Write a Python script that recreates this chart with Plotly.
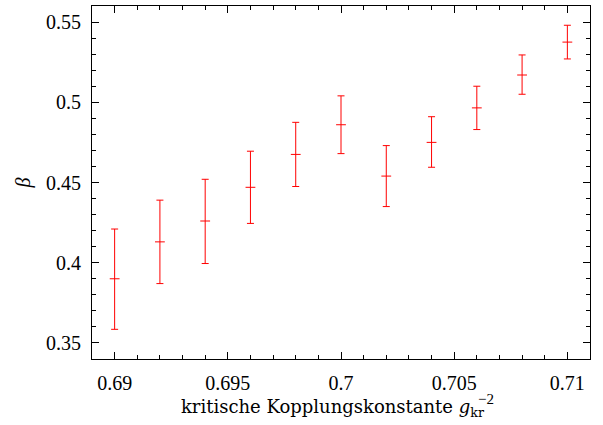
import plotly.graph_objects as go

g_kr = [0.690, 0.692, 0.694, 0.696, 0.698, 0.700, 0.702, 0.704, 0.706, 0.708, 0.710]
beta = [0.390, 0.413, 0.426, 0.447, 0.4675, 0.486, 0.454, 0.475, 0.4965, 0.517, 0.5375]
err_plus = [0.031, 0.026, 0.026, 0.0225, 0.020, 0.018, 0.019, 0.016, 0.0135, 0.0125, 0.0105]
err_minus = [0.0315, 0.026, 0.0265, 0.0225, 0.020, 0.018, 0.019, 0.0155, 0.0135, 0.012, 0.0105]

font = "Liberation Serif"
tfont = "DejaVu Serif"

fig = go.Figure()
fig.add_trace(go.Scatter(
    x=g_kr, y=beta, mode="markers",
    marker=dict(symbol="line-ew", size=7, color="red", line=dict(color="red", width=1)),
    error_y=dict(type="data", symmetric=False, array=err_plus, arrayminus=err_minus,
                 color="red", thickness=1, width=3.5),
    showlegend=False,
))

axis_common = dict(
    showline=True, linecolor="black", linewidth=1, mirror="allticks",
    ticks="inside", ticklen=7, tickwidth=1, tickcolor="black",
    showgrid=False, zeroline=False, automargin=False, ticklabelstandoff=6,
    tickfont=dict(family=font, size=20, color="black"),
)

fig.update_xaxes(range=[0.689, 0.711], dtick=0.005, tick0=0.69,
                 minor=dict(dtick=0.001, ticks="inside", ticklen=4, tickcolor="black", showgrid=False),
                 title=dict(text="kritische Kopplungskonstante <i>g</i><sub>kr</sub>&nbsp;&nbsp;&nbsp;",
                            font=dict(family=tfont, size=18, color="black"), standoff=7),
                 **axis_common)
fig.update_yaxes(range=[0.34, 0.56], dtick=0.05, tick0=0.35,
                 minor=dict(dtick=0.01, ticks="inside", ticklen=4, tickcolor="black", showgrid=False),
                 title=dict(text="<i>β</i>", font=dict(family=font, size=20, color="black"), standoff=10),
                 **axis_common)

fig.add_annotation(text="−2", xref="paper", yref="paper", x=0.772, y=-0.113,
                   xanchor="left", yanchor="middle", showarrow=False,
                   font=dict(family=font, size=15, color="black"))

fig.update_layout(
    width=603, height=425,
    margin=dict(l=92, r=13, t=6, b=66),
    plot_bgcolor="white", paper_bgcolor="white",
    font=dict(family=font, size=20, color="black"),
)

fig.write_html("out.html", config={"displayModeBar": False},
               post_script="document.body.style.margin='0';")
